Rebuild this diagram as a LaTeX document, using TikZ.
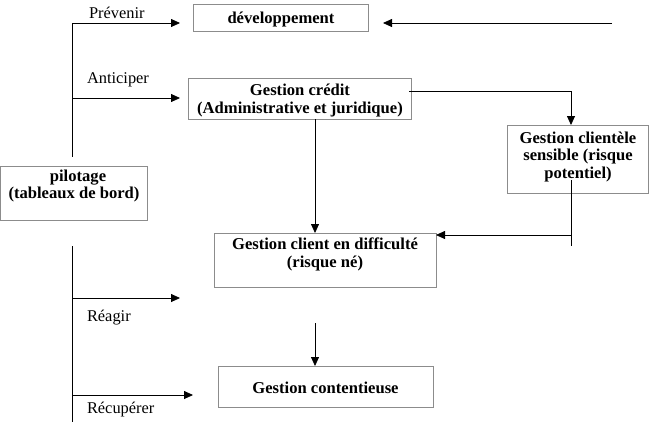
\documentclass[tikz,border=0pt]{standalone}
\usepackage{fontspec}
\setmainfont{Liberation Serif}
\usetikzlibrary{arrows.meta}
\begin{document}
\begin{tikzpicture}[x=1pt,y=-1pt,
  every node/.style={inner sep=0pt, outer sep=0pt},
  box/.style={draw=black!45, line width=0.8pt, anchor=north west},
  txt/.style={font=\fontsize{16.6}{18}\selectfont\bfseries, align=center, anchor=base},
  lbl/.style={font=\fontsize{16.4}{18}\selectfont, anchor=base west},
  conn/.style={line width=0.8pt, black},
  arr/.style={conn, -{Triangle[length=9pt,width=8pt]}}]
\useasboundingbox (0,0) rectangle (656,424);
% boxes
\node[box, minimum width=175pt, minimum height=27pt] (dev) at (193,4) {};
\node[box, minimum width=223pt, minimum height=41pt] (credit) at (188,78) {};
\node[box, minimum width=141pt, minimum height=68pt] (sens) at (507,125) {};
\node[box, minimum width=147pt, minimum height=54pt] (pil) at (0.5,166) {};
\node[box, minimum width=222pt, minimum height=54pt] (diff) at (214,233) {};
\node[box, minimum width=215pt, minimum height=41pt] (cont) at (218,366) {};
% box texts (anchor base = baseline of last line)
\node[txt] (devt) at (281,23) {développement};
\node[txt] (creditt) at (300,113) {Gestion crédit\\(Administrative et juridique)};
\node[txt, font=\fontsize{16.6}{17.5}\selectfont\bfseries] (senst) at (578,178) {Gestion clientèle\\sensible (risque\\potentiel)};
\node[txt, font=\fontsize{16.6}{17}\selectfont\bfseries] (pilt) at (74,198) {\hspace*{8pt}pilotage\\(tableaux de bord)};
\node[txt] (difft) at (325,267) {Gestion client en difficulté\\(risque né)};
\node[txt] (contt) at (325.5,393) {Gestion contentieuse};
% labels
\node[lbl] (prev) at (89,18) {Prévenir};
\node[lbl] (anti) at (87,83) {Anticiper};
\node[lbl] (reag) at (87,321) {Réagir};
\node[lbl] (recu) at (87,413) {Récupérer};
% coordinates
\coordinate (t1) at (72,23);
\coordinate (t2) at (72,157);
\coordinate (b1) at (72,246);
\coordinate (b2) at (72,422);
\coordinate (a1) at (72,98);
\coordinate (a2) at (72,298);
\coordinate (a3) at (72,395);
\coordinate (e1) at (180,23);
\coordinate (e2) at (180,98);
\coordinate (e3) at (180,298);
\coordinate (e4) at (193,395);
\coordinate (r1) at (612,23);
\coordinate (r2) at (383,23);
\coordinate (c1) at (409,91);
\coordinate (dn) at (315,0);
\coordinate (s1) at (571,180);
\coordinate (s2) at (571,246);
\coordinate (s3) at (571,235);
\coordinate (d1) at (315,323);
% connectors
\draw[conn] (t1) -- (t2);
\draw[conn] (b1) -- (b2);
\draw[arr] (t1) -- (e1);
\draw[arr] (a1) -- (e2);
\draw[arr] (a2) -- (e3);
\draw[arr] (a3) -- (e4);
\draw[arr] (r1) -- (r2);
\draw[arr] (c1) -| (sens.north -| s1);
\draw[arr] (credit.south -| dn) -- (diff.north -| dn);
\draw[conn] (s1) -- (s2);
\draw[arr] (s3) -- (s3 -| diff.east);
\draw[arr] (d1) -- (cont.north -| dn);
\end{tikzpicture}
\end{document}
